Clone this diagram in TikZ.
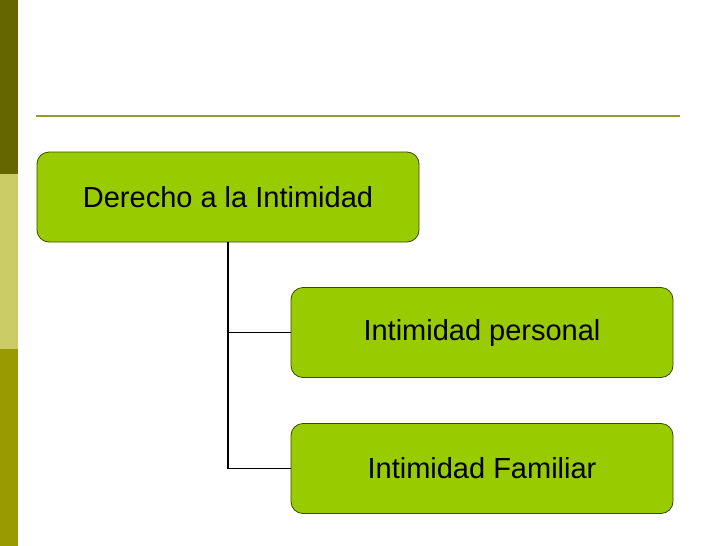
\documentclass[tikz,border=0pt]{standalone}
\usepackage{fontspec}
\setmainfont{Liberation Sans}
\definecolor{barA}{HTML}{666600}
\definecolor{barB}{HTML}{CCCC66}
\definecolor{barC}{HTML}{999900}
\definecolor{rule}{HTML}{999933}
\definecolor{boxfill}{HTML}{99CC00}
\definecolor{boxline}{HTML}{3A4A00}
\begin{document}
\begin{tikzpicture}[x=1pt,y=-1pt,
  box/.style={draw=boxline,line width=0.8pt,fill=boxfill,rounded corners=12pt,
    minimum width=382pt,minimum height=90pt,inner sep=0pt,
    font=\fontsize{29}{34}\selectfont},
  conn/.style={draw=black,line width=1.6pt}]
\useasboundingbox (0,0) rectangle (728,546);
\fill[white] (0,0) rectangle (728,546);
\fill[barA] (0,0) rectangle (18,174);
\fill[barB] (0,174) rectangle (18,349);
\fill[barC] (0,349) rectangle (18,546);
\draw[rule,line width=2pt] (36,116) -- (680,116);
\node[box] (root) at (228,197) {Derecho a la Intimidad};
\node[box] (p) at (482,332.5) {Intimidad personal};
\node[box] (f) at (482,468.5) {Intimidad Familiar};
\coordinate (j1) at (228,332.5);
\coordinate (j2) at (228,468.5);
\draw[conn] (root.south) -- (j2) -- (f.west);
\draw[conn] (j1) -- (p.west);
\end{tikzpicture}
\end{document}
